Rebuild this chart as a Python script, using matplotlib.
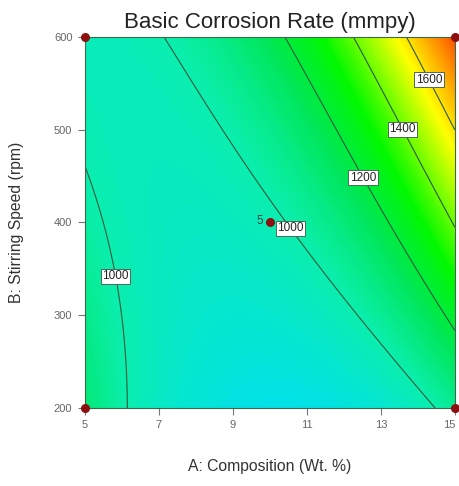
import numpy as np
import matplotlib
matplotlib.use("Agg")
import matplotlib.pyplot as plt
import matplotlib.transforms as mtransforms
from matplotlib.colors import LinearSegmentedColormap

# Grid (rows = stirring speed, cols = composition)
composition = [5, 7, 9, 11, 13, 15]
speed = [200, 300, 400, 500, 600]
rate = [
	[1123, 936, 836, 824, 898, 1060],
	[1050, 947, 913, 947, 1050, 1220],
	[1008, 958, 965, 1045, 1175, 1400],
	[990, 972, 1012, 1130, 1320, 1595],
	[980, 990, 1080, 1250, 1500, 1830],
]
levels = [1000, 1200, 1400, 1600]

# Design points
design_a = [5, 5, 15, 15, 10]
design_b = [200, 600, 200, 600, 400]

plt.rcParams["font.family"] = ["Liberation Sans", "DejaVu Sans"]

# Design-Expert like colour ramp
vmin, vmax = 800, 1850
ramp = [
	(800, "#00def2"),
	(1000, "#0aeeae"),
	(1150, "#00e65a"),
	(1300, "#00f800"),
	(1450, "#96ff00"),
	(1560, "#ffff00"),
	(1850, "#ff3c00"),
]
cmap = LinearSegmentedColormap.from_list(
	"dx", [((v - vmin) / (vmax - vmin), c) for v, c in ramp])

# Response surface: least squares cubic model over the read grid (coded units)
def terms(a, b):
	return np.stack([np.ones_like(a), a, b, a * a, a * b, b * b,
		a ** 3, a * a * b, a * b * b, b ** 3], axis=-1)

A, B = np.meshgrid(composition, speed)
a_c = (A.ravel() - 10) / 5.0
b_c = (B.ravel() - 400) / 200.0
coef, *_ = np.linalg.lstsq(terms(a_c, b_c), np.array(rate, float).ravel(), rcond=None)

ga, gb = np.meshgrid(np.linspace(5, 15, 201), np.linspace(200, 600, 201))
gz = terms((ga - 10) / 5.0, (gb - 400) / 200.0) @ coef

fig = plt.figure(figsize=(4.59, 4.86), dpi=100)
ax = fig.add_axes([0.185, 0.1605, 0.806, 0.7634])

ax.contourf(ga, gb, gz, levels=np.linspace(vmin, vmax, 120), cmap=cmap,
	vmin=vmin, vmax=vmax, extend="both")
cs = ax.contour(ga, gb, gz, levels=levels, colors="#2d5a3c", linewidths=0.8)

labels = ax.clabel(cs, fmt="%d", fontsize=8.5, inline=False,
	manual=[(5.7, 341), (10.5, 392), (12.5, 448), (13.65, 502), (14.4, 556)])
for t in labels:
	t.set_rotation(0)
	t.set_color("#222222")
	t.set_bbox(dict(facecolor="white", edgecolor="#4a6a55", linewidth=0.7, pad=1.0))

ax.plot(design_a, design_b, "o", color="#8c1010", markersize=5.5,
	clip_on=False, zorder=5)
ax.annotate("5", (10, 400), xytext=(-7, 1), textcoords="offset points",
	ha="center", va="center", fontsize=8.5, color="#444444")

ax.set_xlim(5, 15)
ax.set_ylim(200, 600)
ax.set_xticks([5, 7, 9, 11, 13, 15])
ax.set_yticks([200, 300, 400, 500, 600])
ax.tick_params(direction="out", length=5, width=0.8, colors="#777777",
	labelsize=8, labelcolor="#666666", pad=4)
for s in ax.spines.values():
	s.set_color("#3a6a4a")
	s.set_linewidth(0.8)

# keep the last x tick label inside the canvas
last = ax.get_xticklabels()[-1]
last.set_transform(last.get_transform() + mtransforms.ScaledTranslation(-4 / 72, 0, fig.dpi_scale_trans))

fig.text(0.588, 0.932, "Basic Corrosion Rate (mmpy)", ha="center", va="bottom",
	fontsize=16, color="#222222")
fig.text(0.588, 0.04, "A: Composition (Wt. %)", ha="center", va="center",
	fontsize=11.3, color="#333333")
fig.text(0.037, 0.543, "B: Stirring Speed (rpm)", ha="center", va="center",
	rotation=90, fontsize=11.3, color="#333333")

plt.savefig("out.png", dpi=100)
